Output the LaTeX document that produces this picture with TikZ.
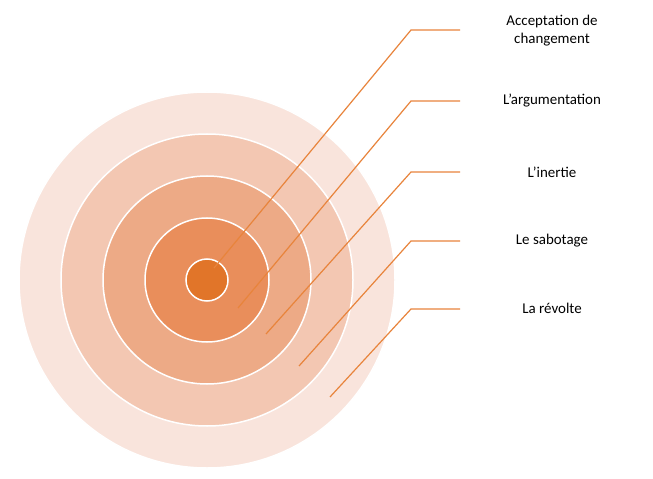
\documentclass[tikz,border=0pt]{standalone}
\usepackage{fontspec}
\setmainfont{Carlito}
\begin{document}
\begin{tikzpicture}[x=1bp,y=-1bp,
  ring/.style={draw=white,line width=1.5bp},
  lead/.style={draw=ldr,line width=1.2bp},
  lbl/.style={font=\fontsize{15}{18}\selectfont,align=center,anchor=center}]
\definecolor{ldr}{HTML}{E8843C}
\useasboundingbox (0,0) rectangle (653,479);
\fill[white] (0,0) rectangle (653,479);
\filldraw[ring,fill={rgb,255:red,249;green,228;blue,220}] (207,280) circle (188);
\filldraw[ring,fill={rgb,255:red,243;green,199;blue,178}] (207,280) circle (146);
\filldraw[ring,fill={rgb,255:red,237;green,170;blue,134}] (207,280) circle (104);
\filldraw[ring,fill={rgb,255:red,233;green,142;blue,91}] (207,280) circle (62);
\filldraw[ring,fill={rgb,255:red,225;green,117;blue,41}] (207,280) circle (21);
\node[lbl] (t1) at (552,31) {Acceptation de\\changement};
\node[lbl] (t2) at (552,101) {L'argumentation};
\node[lbl] (t3) at (552,172) {L'inertie};
\node[lbl] (t4) at (552,241) {Le sabotage};
\node[lbl] (t5) at (552,308) {La révolte};
\coordinate (e1) at (214,268);
\coordinate (e2) at (238,308);
\coordinate (e3) at (266,334);
\coordinate (e4) at (299,366);
\coordinate (e5) at (330,397);
\draw[lead] (460,30) -- (411,30) -- (e1);
\draw[lead] (460,101) -- (411,101) -- (e2);
\draw[lead] (460,172) -- (411,172) -- (e3);
\draw[lead] (460,241) -- (411,241) -- (e4);
\draw[lead] (460,309) -- (411,309) -- (e5);
\end{tikzpicture}
\end{document}
